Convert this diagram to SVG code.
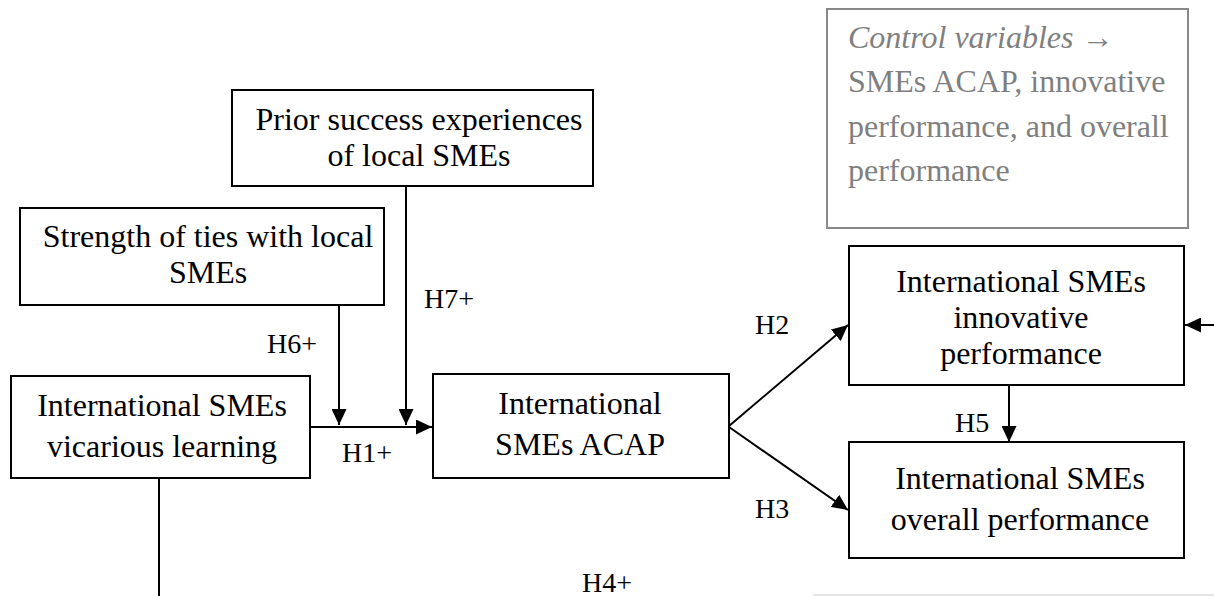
<svg xmlns="http://www.w3.org/2000/svg" width="1214" height="596" viewBox="0 0 1214 596">
<style>
.box{fill:#fff;stroke:#000;stroke-width:2}
.ctl{fill:#fff;stroke:#898989;stroke-width:2}
.t{font-family:"Liberation Serif","Times New Roman",serif;font-size:32px;fill:#000;text-anchor:middle}
.c{font-family:"Liberation Serif","Times New Roman",serif;font-size:32px;fill:#7f7f7f}
.lab{font-family:"Liberation Serif","Times New Roman",serif;font-size:28px;fill:#000}
.ln{stroke:#000;stroke-width:2;fill:none}
</style>
<defs>
<marker id="ah" markerUnits="userSpaceOnUse" markerWidth="16" markerHeight="15" refX="16" refY="7.5" orient="auto" viewBox="0 0 16 15">
<path d="M0,0 L16,7.5 L0,15 z" fill="#000"/>
</marker>
</defs>
<rect width="1214" height="596" fill="#fff"/>
<g id="connectors">
<line class="ln" x1="310" y1="427" x2="432" y2="427" marker-end="url(#ah)"/>
<line class="ln" x1="339" y1="305" x2="339" y2="425" marker-end="url(#ah)"/>
<line class="ln" x1="406" y1="186" x2="406" y2="425" marker-end="url(#ah)"/>
<line class="ln" x1="729" y1="426" x2="848" y2="325" marker-end="url(#ah)"/>
<line class="ln" x1="729" y1="427" x2="848" y2="510" marker-end="url(#ah)"/>
<line class="ln" x1="1009" y1="385" x2="1009" y2="442" marker-end="url(#ah)"/>
<line class="ln" x1="1214" y1="325" x2="1185" y2="325" marker-end="url(#ah)"/>
<line class="ln" x1="159" y1="478" x2="159" y2="596"/>
<line x1="813" y1="595" x2="1214" y2="595" stroke="#e6e6e6" stroke-width="2"/>
</g>
<g id="labels">
<text class="lab" x="267" y="353">H6+</text>
<text class="lab" x="342" y="462">H1+</text>
<text class="lab" x="424" y="308">H7+</text>
<text class="lab" x="755" y="334">H2</text>
<text class="lab" x="755" y="518">H3</text>
<text class="lab" x="955" y="432">H5</text>
<text class="lab" x="582" y="592">H4+</text>
</g>
<g id="control">
<rect class="ctl" x="827" y="9" width="361" height="219"/>
<text class="c" x="848" y="48"><tspan font-style="italic">Control variables</tspan> →</text>
<text class="c" x="848" y="92">SMEs ACAP, innovative</text>
<text class="c" x="848" y="137">performance, and overall</text>
<text class="c" x="848" y="181">performance</text>
</g>
<g id="prior">
<rect class="box" x="232" y="90" width="361" height="96"/>
<text class="t" x="419" y="130">Prior success experiences</text>
<text class="t" x="419" y="166">of local SMEs</text>
</g>
<g id="strength">
<rect class="box" x="20" y="208" width="364" height="97"/>
<text class="t" x="208" y="247">Strength of ties with local</text>
<text class="t" x="208" y="283">SMEs</text>
</g>
<g id="vicarious">
<rect class="box" x="11" y="376" width="299" height="102"/>
<text class="t" x="162" y="416">International SMEs</text>
<text class="t" x="162" y="457">vicarious learning</text>
</g>
<g id="acap">
<rect class="box" x="433" y="374" width="296" height="104"/>
<text class="t" x="580" y="414">International</text>
<text class="t" x="580" y="455">SMEs ACAP</text>
</g>
<g id="innovative">
<rect class="box" x="849" y="246" width="335" height="139"/>
<text class="t" x="1021" y="292">International SMEs</text>
<text class="t" x="1021" y="328">innovative</text>
<text class="t" x="1021" y="364">performance</text>
</g>
<g id="overall">
<rect class="box" x="849" y="442" width="335" height="116"/>
<text class="t" x="1020" y="489">International SMEs</text>
<text class="t" x="1020" y="530">overall performance</text>
</g>
</svg>
